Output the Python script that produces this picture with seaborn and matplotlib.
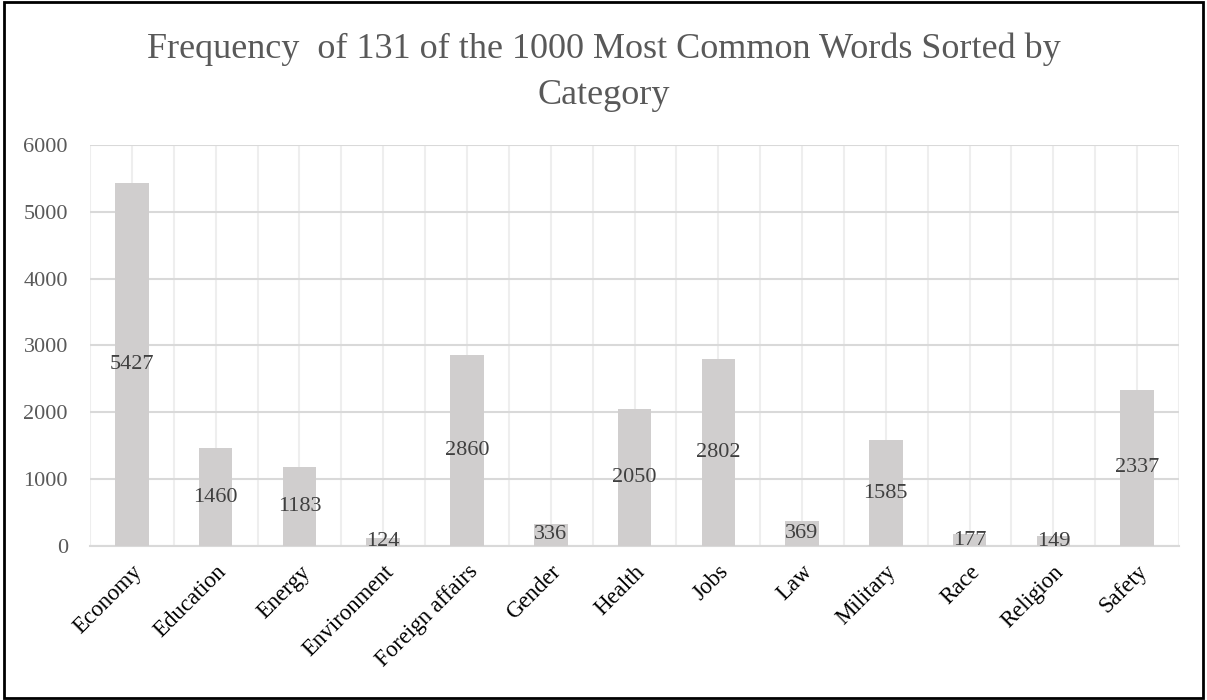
import numpy as np
import pandas as pd
import matplotlib
matplotlib.use('Agg')
import matplotlib.pyplot as plt
import seaborn as sns
from matplotlib.patches import Rectangle

categories = ['Economy', 'Education', 'Energy', 'Environment', 'Foreign affairs', 'Gender',
              'Health', 'Jobs', 'Law', 'Military', 'Race', 'Religion', 'Safety']
counts = [5427, 1460, 1183, 124, 2860, 336, 2050, 2802, 369, 1585, 177, 149, 2337]
yticks = [0, 1000, 2000, 3000, 4000, 5000, 6000]

sns.set_theme(style='white')
plt.rcParams['font.family'] = ['Liberation Serif', 'DejaVu Serif']

df = pd.DataFrame({'category': categories, 'count': counts})

fig = plt.figure(figsize=(12.07, 7), dpi=100)
ax = fig.add_axes([0.0746, 0.22, 0.9022, 0.573])

sns.barplot(data=df, x='category', y='count', color='#d0cece', saturation=1,
            width=0.4, linewidth=0, ax=ax, zorder=3)

ax.set_xlim(-0.5, len(categories) - 0.5)
ax.set_ylim(0, 6000)
ax.set_yticks(yticks)
ax.set_xticks(np.arange(-0.5, len(categories), 1.0), minor=True)

# gridlines
ax.grid(axis='y', color='#d9d9d9', linewidth=1.5, zorder=0)
ax.grid(axis='x', which='both', color='#eeeeee', linewidth=1.5, zorder=0)
ax.set_axisbelow(True)

for s in ['top', 'right', 'left']:
    ax.spines[s].set_visible(False)
ax.spines['bottom'].set_color('#d9d9d9')
ax.spines['bottom'].set_linewidth(1.5)

ax.tick_params(axis='y', length=0, pad=16, labelsize=16, labelcolor='#595959')
ax.tick_params(axis='x', which='both', length=0, pad=11, labelsize=16.5, labelcolor='black')
plt.setp(ax.get_xticklabels(), rotation=45, ha='right', rotation_mode='anchor')

ax.set_xlabel('')
ax.set_ylabel('')

ax.bar_label(ax.containers[0], label_type='center', fontsize=16, color='#404040')

fig.suptitle('Frequency  of 131 of the 1000 Most Common Words Sorted by\nCategory',
             x=0.5, y=0.953, fontsize=26, color='#595959', linespacing=1.5)

fig.patches.append(Rectangle((0.003, 0.003), 0.994, 0.994, transform=fig.transFigure,
                             fill=False, edgecolor='black', linewidth=2))

fig.savefig('out.png', dpi=100)
